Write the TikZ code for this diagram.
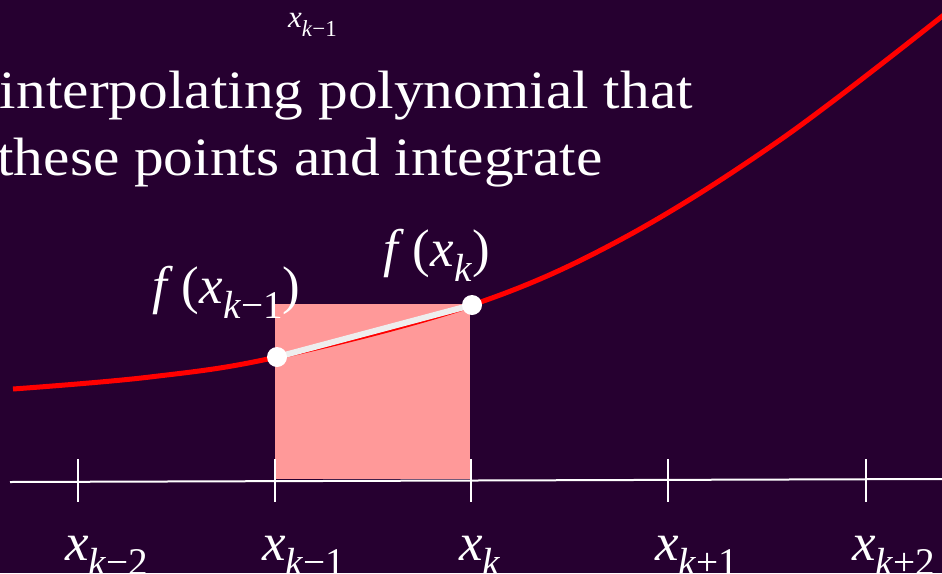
\documentclass[tikz,border=0pt]{standalone}
\usepackage{fontspec}
\setmainfont{Liberation Serif}
\newfontfamily\bodyfont{Liberation Serif}[FakeStretch=1.1]
\usepackage{graphicx}
\definecolor{bg}{RGB}{38,0,48}
\definecolor{pinkfill}{RGB}{255,153,153}
\definecolor{curvered}{RGB}{255,0,0}
\definecolor{chord}{RGB}{238,238,238}
\newcommand\xsb[1]{\textit{x}\raisebox{-0.3em}{\scalebox{0.74}{\textit{k}#1}}}
\begin{document}
\begin{tikzpicture}[x=1pt,y=-1pt,
  axisline/.style={draw=white,line width=2pt},
  tickline/.style={draw=white,line width=2pt},
  curve/.style={draw=curvered,line width=5pt},
  chordline/.style={draw=chord,line width=6pt},
  dot/.style={circle,fill=white,minimum size=20pt,inner sep=0pt},
  bigtext/.style={text=white,font=\bodyfont\fontsize{54}{54}\selectfont,inner sep=0pt},
  mathlbl/.style={text=white,font=\fontsize{53}{53}\selectfont,inner sep=0pt},
  smalllbl/.style={text=white,font=\fontsize{31}{31}\selectfont,inner sep=0pt}]
\useasboundingbox (0,0) rectangle (942,573);
\clip (0,0) rectangle (942,573);
\fill[bg] (0,0) rectangle (942,573);
% small label at top
\node[smalllbl,anchor=base west] (toplbl) at (288,27) {\xsb{−1}};
% text
\node[bigtext,anchor=base east] (line1) at (693,108) {interpolating polynomial that};
\node[bigtext,anchor=base east] (line2) at (603,175) {these points and integrate};
% pink rectangle
\fill[pinkfill] (275,304) rectangle (470,479);
% axis
\coordinate (a0) at (10,482);
\coordinate (a1) at (942,479);
\draw[axisline] (a0) -- (a1);
\foreach \x/\n in {78/1,275/2,471/3,668/4,866/5}{
  \coordinate (t\n a) at (\x,459);
  \coordinate (t\n b) at (\x,502);
  \draw[tickline] (t\n a) -- (t\n b);
}
% curve
\draw[curve] plot[smooth,tension=0.6] coordinates {(13,389) (150,377) (277,357) (472,305) (620,240) (780,140) (945,14)};
% chord and points
\coordinate (c1) at (277,357);
\coordinate (c2) at (472,305);
\draw[chordline] (c1) -- (c2);
\node[dot] (p1) at (c1) {};
\node[dot] (p2) at (c2) {};
% f labels
\node[mathlbl,anchor=base west] (f1) at (152,303) {\textit{f}\,(\xsb{−1})};
\node[mathlbl,anchor=base west] (f2) at (383,266) {\textit{f}\,(\xsb{})};
% axis labels
\node[mathlbl,anchor=base west] (l1) at (65,560) {\xsb{−2}};
\node[mathlbl,anchor=base west] (l2) at (262,560) {\xsb{−1}};
\node[mathlbl,anchor=base west] (l3) at (459,560) {\xsb{}};
\node[mathlbl,anchor=base west] (l4) at (655,560) {\xsb{+1}};
\node[mathlbl,anchor=base west] (l5) at (852,560) {\xsb{+2}};
\end{tikzpicture}
\end{document}
